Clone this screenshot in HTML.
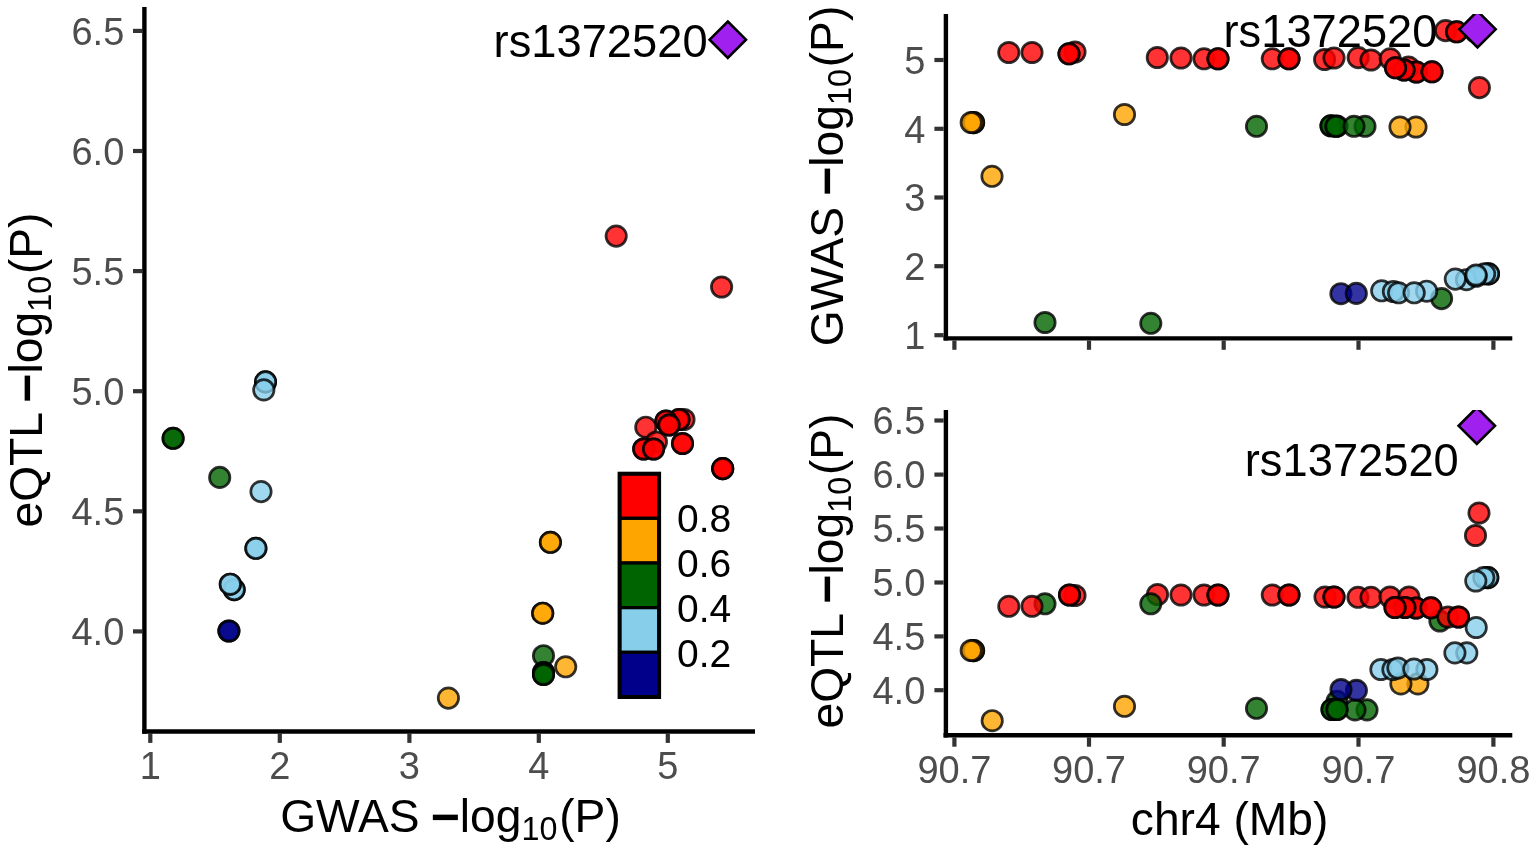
<!DOCTYPE html>
<html lang="en">
<head>
<meta charset="utf-8">
<title>LocusCompare: GWAS vs eQTL, rs1372520</title>
<style>
html, body { margin: 0; padding: 0; background: #fff; }
body { width: 1535px; height: 851px; overflow: hidden; font-family: "Liberation Sans", Arial, sans-serif; }
svg { display: block; }
.pt { stroke: #000; stroke-width: 2.7px; fill-opacity: 0.8; stroke-opacity: 0.8; }
</style>
</head>
<body>
<svg width="1535" height="851" viewBox="0 0 1535 851" font-family='"Liberation Sans", Arial, sans-serif'>
<defs>
<clipPath id="clipTR"><rect x="948" y="14" width="570" height="322.2"/></clipPath>
<clipPath id="clipBR"><rect x="948" y="410" width="570" height="322.8"/></clipPath>
</defs>
<rect width="1535" height="851" fill="#fff"/>
<circle class="pt" cx="173.1" cy="438.3" r="10.2" fill="#006400"/>
<circle class="pt" cx="173.1" cy="438.3" r="10.2" fill="#006400"/>
<circle class="pt" cx="219.7" cy="477.4" r="10.2" fill="#006400"/>
<circle class="pt" cx="265.5" cy="381.9" r="10.2" fill="#87CEEB"/>
<circle class="pt" cx="265.5" cy="381.9" r="10.2" fill="#87CEEB"/>
<circle class="pt" cx="263.8" cy="389.9" r="10.2" fill="#87CEEB"/>
<circle class="pt" cx="261.0" cy="491.6" r="10.2" fill="#87CEEB"/>
<circle class="pt" cx="255.9" cy="548.3" r="10.2" fill="#87CEEB"/>
<circle class="pt" cx="255.9" cy="548.3" r="10.2" fill="#87CEEB"/>
<circle class="pt" cx="234.2" cy="589.6" r="10.2" fill="#87CEEB"/>
<circle class="pt" cx="234.2" cy="589.6" r="10.2" fill="#87CEEB"/>
<circle class="pt" cx="230.3" cy="584.2" r="10.2" fill="#87CEEB"/>
<circle class="pt" cx="230.3" cy="584.2" r="10.2" fill="#87CEEB"/>
<circle class="pt" cx="228.9" cy="631.0" r="10.2" fill="#00008B"/>
<circle class="pt" cx="228.9" cy="631.0" r="10.2" fill="#00008B"/>
<circle class="pt" cx="448.4" cy="698.1" r="10.2" fill="#FFA500"/>
<circle class="pt" cx="550.4" cy="542.3" r="10.2" fill="#FFA500"/>
<circle class="pt" cx="550.4" cy="542.3" r="10.2" fill="#FFA500"/>
<circle class="pt" cx="542.7" cy="613.2" r="10.2" fill="#FFA500"/>
<circle class="pt" cx="542.7" cy="613.2" r="10.2" fill="#FFA500"/>
<circle class="pt" cx="543.5" cy="655.7" r="10.2" fill="#006400"/>
<circle class="pt" cx="565.7" cy="666.8" r="10.2" fill="#FFA500"/>
<circle class="pt" cx="543.5" cy="672.5" r="10.2" fill="#006400"/>
<circle class="pt" cx="543.5" cy="672.5" r="10.2" fill="#006400"/>
<circle class="pt" cx="543.5" cy="674.5" r="10.2" fill="#006400"/>
<circle class="pt" cx="543.5" cy="674.5" r="10.2" fill="#006400"/>
<circle class="pt" cx="616.2" cy="236.1" r="10.2" fill="#FF0000"/>
<circle class="pt" cx="721.6" cy="287.0" r="10.2" fill="#FF0000"/>
<circle class="pt" cx="645.8" cy="427.2" r="10.2" fill="#FF0000"/>
<circle class="pt" cx="656.4" cy="442.0" r="10.2" fill="#FF0000"/>
<circle class="pt" cx="643.7" cy="449.0" r="10.2" fill="#FF0000"/>
<circle class="pt" cx="643.7" cy="449.0" r="10.2" fill="#FF0000"/>
<circle class="pt" cx="653.6" cy="449.0" r="10.2" fill="#FF0000"/>
<circle class="pt" cx="653.6" cy="449.0" r="10.2" fill="#FF0000"/>
<circle class="pt" cx="684.0" cy="419.5" r="10.2" fill="#FF0000"/>
<circle class="pt" cx="679.0" cy="419.5" r="10.2" fill="#FF0000"/>
<circle class="pt" cx="679.0" cy="419.5" r="10.2" fill="#FF0000"/>
<circle class="pt" cx="666.0" cy="421.0" r="10.2" fill="#FF0000"/>
<circle class="pt" cx="666.0" cy="421.0" r="10.2" fill="#FF0000"/>
<circle class="pt" cx="669.0" cy="425.0" r="10.2" fill="#FF0000"/>
<circle class="pt" cx="669.0" cy="425.0" r="10.2" fill="#FF0000"/>
<circle class="pt" cx="682.5" cy="443.5" r="10.2" fill="#FF0000"/>
<circle class="pt" cx="682.5" cy="443.5" r="10.2" fill="#FF0000"/>
<circle class="pt" cx="722.7" cy="468.6" r="10.2" fill="#FF0000"/>
<circle class="pt" cx="722.7" cy="468.6" r="10.2" fill="#FF0000"/>
<circle class="pt" cx="722.7" cy="468.6" r="10.2" fill="#FF0000"/>
<line x1="150.3" y1="733.7" x2="150.3" y2="742.9" stroke="#333333" stroke-width="4.2"/>
<line x1="279.8" y1="733.7" x2="279.8" y2="742.9" stroke="#333333" stroke-width="4.2"/>
<line x1="409.4" y1="733.7" x2="409.4" y2="742.9" stroke="#333333" stroke-width="4.2"/>
<line x1="538.8" y1="733.7" x2="538.8" y2="742.9" stroke="#333333" stroke-width="4.2"/>
<line x1="667.8" y1="733.7" x2="667.8" y2="742.9" stroke="#333333" stroke-width="4.2"/>
<line x1="133.0" y1="30.9" x2="142.2" y2="30.9" stroke="#333333" stroke-width="4.2"/>
<line x1="133.0" y1="151.0" x2="142.2" y2="151.0" stroke="#333333" stroke-width="4.2"/>
<line x1="133.0" y1="271.1" x2="142.2" y2="271.1" stroke="#333333" stroke-width="4.2"/>
<line x1="133.0" y1="391.2" x2="142.2" y2="391.2" stroke="#333333" stroke-width="4.2"/>
<line x1="133.0" y1="511.3" x2="142.2" y2="511.3" stroke="#333333" stroke-width="4.2"/>
<line x1="133.0" y1="631.4" x2="142.2" y2="631.4" stroke="#333333" stroke-width="4.2"/>
<line x1="144.4" y1="7.0" x2="144.4" y2="733.7" stroke="#000" stroke-width="4.4"/>
<line x1="142.2" y1="731.5" x2="755.0" y2="731.5" stroke="#000" stroke-width="4.4"/>
<text x="124.3" y="44.7" font-size="38" text-anchor="end" fill="#4D4D4D">6.5</text>
<text x="124.3" y="164.8" font-size="38" text-anchor="end" fill="#4D4D4D">6.0</text>
<text x="124.3" y="284.9" font-size="38" text-anchor="end" fill="#4D4D4D">5.5</text>
<text x="124.3" y="405.0" font-size="38" text-anchor="end" fill="#4D4D4D">5.0</text>
<text x="124.3" y="525.1" font-size="38" text-anchor="end" fill="#4D4D4D">4.5</text>
<text x="124.3" y="645.2" font-size="38" text-anchor="end" fill="#4D4D4D">4.0</text>
<text x="150.3" y="778.5" font-size="38" text-anchor="middle" fill="#4D4D4D">1</text>
<text x="279.8" y="778.5" font-size="38" text-anchor="middle" fill="#4D4D4D">2</text>
<text x="409.4" y="778.5" font-size="38" text-anchor="middle" fill="#4D4D4D">3</text>
<text x="538.8" y="778.5" font-size="38" text-anchor="middle" fill="#4D4D4D">4</text>
<text x="667.8" y="778.5" font-size="38" text-anchor="middle" fill="#4D4D4D">5</text>
<text x="450.5" y="832.0" font-size="46.2" text-anchor="middle" fill="#000">GWAS <tspan font-weight="bold" font-size="50" dy="1.6" dx="-1.8">−</tspan><tspan dy="-1.6">log</tspan><tspan font-size="32.3" dy="8.2">10</tspan><tspan dy="-8.2" dx="1.8">(P)</tspan></text>
<text transform="translate(42.4 370.0) rotate(-90)" font-size="46.2" text-anchor="middle" fill="#000">eQTL <tspan font-weight="bold" font-size="50" dy="1.6" dx="-1.8">−</tspan><tspan dy="-1.6">log</tspan><tspan font-size="32.3" dy="8.2">10</tspan><tspan dy="-8.2" dx="1.8">(P)</tspan></text>
<rect x="619.6" y="473.70" width="39.5" height="44.66" fill="#FF0000" stroke="#000" stroke-width="3.2"/>
<rect x="619.6" y="518.36" width="39.5" height="44.66" fill="#FFA500" stroke="#000" stroke-width="3.2"/>
<rect x="619.6" y="563.02" width="39.5" height="44.66" fill="#006400" stroke="#000" stroke-width="3.2"/>
<rect x="619.6" y="607.68" width="39.5" height="44.66" fill="#87CEEB" stroke="#000" stroke-width="3.2"/>
<rect x="619.6" y="652.34" width="39.5" height="44.66" fill="#00008B" stroke="#000" stroke-width="3.2"/>
<rect x="619.6" y="473.7" width="39.5" height="223.3" fill="none" stroke="#000" stroke-width="4"/>
<text x="677.0" y="532.4" font-size="39" text-anchor="start" fill="#000">0.8</text>
<text x="677.0" y="577.4" font-size="39" text-anchor="start" fill="#000">0.6</text>
<text x="677.0" y="622.4" font-size="39" text-anchor="start" fill="#000">0.4</text>
<text x="677.0" y="667.4" font-size="39" text-anchor="start" fill="#000">0.2</text>
<path d="M727.8 21.5 L746.0 39.7 L727.8 57.9 L709.6 39.7 Z" fill="#A020F0" stroke="#000" stroke-width="2.6" stroke-linejoin="miter"/>
<text x="707.6" y="57.0" font-size="47" text-anchor="end" fill="#000" textLength="214.0" lengthAdjust="spacingAndGlyphs">rs1372520</text>
<circle class="pt" cx="973.6" cy="122.6" r="10.2" fill="#FFA500"/>
<circle class="pt" cx="973.6" cy="122.6" r="10.2" fill="#FFA500"/>
<circle class="pt" cx="971.2" cy="122.5" r="10.2" fill="#FFA500"/>
<circle class="pt" cx="992.0" cy="176.3" r="10.2" fill="#FFA500"/>
<circle class="pt" cx="1008.8" cy="52.5" r="10.2" fill="#FF0000"/>
<circle class="pt" cx="1032.0" cy="52.5" r="10.2" fill="#FF0000"/>
<circle class="pt" cx="1045.0" cy="322.5" r="10.2" fill="#006400"/>
<circle class="pt" cx="1075.0" cy="52.0" r="10.2" fill="#FF0000"/>
<circle class="pt" cx="1069.0" cy="53.8" r="10.2" fill="#FF0000"/>
<circle class="pt" cx="1069.0" cy="53.8" r="10.2" fill="#FF0000"/>
<circle class="pt" cx="1124.5" cy="114.5" r="10.2" fill="#FFA500"/>
<circle class="pt" cx="1150.8" cy="323.3" r="10.2" fill="#006400"/>
<circle class="pt" cx="1157.3" cy="57.5" r="10.2" fill="#FF0000"/>
<circle class="pt" cx="1181.0" cy="58.0" r="10.2" fill="#FF0000"/>
<circle class="pt" cx="1204.0" cy="58.8" r="10.2" fill="#FF0000"/>
<circle class="pt" cx="1218.0" cy="58.8" r="10.2" fill="#FF0000"/>
<circle class="pt" cx="1218.0" cy="58.8" r="10.2" fill="#FF0000"/>
<circle class="pt" cx="1256.5" cy="126.3" r="10.2" fill="#006400"/>
<circle class="pt" cx="1272.3" cy="58.8" r="10.2" fill="#FF0000"/>
<circle class="pt" cx="1289.0" cy="58.8" r="10.2" fill="#FF0000"/>
<circle class="pt" cx="1289.0" cy="58.8" r="10.2" fill="#FF0000"/>
<circle class="pt" cx="1324.6" cy="59.5" r="10.2" fill="#FF0000"/>
<circle class="pt" cx="1334.0" cy="58.0" r="10.2" fill="#FF0000"/>
<circle class="pt" cx="1358.2" cy="57.6" r="10.2" fill="#FF0000"/>
<circle class="pt" cx="1371.0" cy="60.0" r="10.2" fill="#FF0000"/>
<circle class="pt" cx="1390.2" cy="58.8" r="10.2" fill="#FF0000"/>
<circle class="pt" cx="1408.5" cy="67.0" r="10.2" fill="#FF0000"/>
<circle class="pt" cx="1416.4" cy="72.0" r="10.2" fill="#FF0000"/>
<circle class="pt" cx="1416.4" cy="72.0" r="10.2" fill="#FF0000"/>
<circle class="pt" cx="1404.0" cy="70.0" r="10.2" fill="#FF0000"/>
<circle class="pt" cx="1404.0" cy="70.0" r="10.2" fill="#FF0000"/>
<circle class="pt" cx="1395.5" cy="67.8" r="10.2" fill="#FF0000"/>
<circle class="pt" cx="1395.5" cy="67.8" r="10.2" fill="#FF0000"/>
<circle class="pt" cx="1432.0" cy="71.8" r="10.2" fill="#FF0000"/>
<circle class="pt" cx="1432.0" cy="71.8" r="10.2" fill="#FF0000"/>
<circle class="pt" cx="1445.6" cy="30.6" r="10.2" fill="#FF0000"/>
<circle class="pt" cx="1456.6" cy="31.8" r="10.2" fill="#FF0000"/>
<circle class="pt" cx="1456.6" cy="31.8" r="10.2" fill="#FF0000"/>
<circle class="pt" cx="1475.5" cy="31.8" r="10.2" fill="#FF0000"/>
<circle class="pt" cx="1479.4" cy="87.6" r="10.2" fill="#FF0000"/>
<circle class="pt" cx="1337.0" cy="126.0" r="10.2" fill="#006400"/>
<circle class="pt" cx="1331.0" cy="125.8" r="10.2" fill="#006400"/>
<circle class="pt" cx="1331.0" cy="125.8" r="10.2" fill="#006400"/>
<circle class="pt" cx="1336.0" cy="126.3" r="10.2" fill="#006400"/>
<circle class="pt" cx="1336.0" cy="126.3" r="10.2" fill="#006400"/>
<circle class="pt" cx="1365.0" cy="126.3" r="10.2" fill="#006400"/>
<circle class="pt" cx="1354.0" cy="126.3" r="10.2" fill="#006400"/>
<circle class="pt" cx="1416.0" cy="127.0" r="10.2" fill="#FFA500"/>
<circle class="pt" cx="1400.0" cy="127.0" r="10.2" fill="#FFA500"/>
<circle class="pt" cx="1340.9" cy="293.7" r="10.2" fill="#00008B"/>
<circle class="pt" cx="1356.3" cy="293.4" r="10.2" fill="#00008B"/>
<circle class="pt" cx="1441.6" cy="298.6" r="10.2" fill="#006400"/>
<circle class="pt" cx="1381.7" cy="290.8" r="10.2" fill="#87CEEB"/>
<circle class="pt" cx="1426.6" cy="291.2" r="10.2" fill="#87CEEB"/>
<circle class="pt" cx="1393.4" cy="291.5" r="10.2" fill="#87CEEB"/>
<circle class="pt" cx="1398.6" cy="292.8" r="10.2" fill="#87CEEB"/>
<circle class="pt" cx="1414.2" cy="292.8" r="10.2" fill="#87CEEB"/>
<circle class="pt" cx="1466.4" cy="279.7" r="10.2" fill="#87CEEB"/>
<circle class="pt" cx="1455.3" cy="279.1" r="10.2" fill="#87CEEB"/>
<circle class="pt" cx="1488.5" cy="273.9" r="10.2" fill="#87CEEB"/>
<circle class="pt" cx="1488.5" cy="273.9" r="10.2" fill="#87CEEB"/>
<circle class="pt" cx="1484.6" cy="273.9" r="10.2" fill="#87CEEB"/>
<circle class="pt" cx="1476.1" cy="276.3" r="10.2" fill="#87CEEB"/>
<circle class="pt" cx="1476.1" cy="275.0" r="10.2" fill="#87CEEB"/>
<path d="M1477.5 11.1 L1495.7 29.3 L1477.5 47.5 L1459.3 29.3 Z" fill="#A020F0" stroke="#000" stroke-width="2.6" stroke-linejoin="miter" clip-path="url(#clipTR)"/>
<text x="1437.5" y="46.8" font-size="47" text-anchor="end" fill="#000" textLength="214.0" lengthAdjust="spacingAndGlyphs">rs1372520</text>
<line x1="954.4" y1="340.6" x2="954.4" y2="349.8" stroke="#333333" stroke-width="4.2"/>
<line x1="1089.0" y1="340.6" x2="1089.0" y2="349.8" stroke="#333333" stroke-width="4.2"/>
<line x1="1223.7" y1="340.6" x2="1223.7" y2="349.8" stroke="#333333" stroke-width="4.2"/>
<line x1="1358.5" y1="340.6" x2="1358.5" y2="349.8" stroke="#333333" stroke-width="4.2"/>
<line x1="1493.4" y1="340.6" x2="1493.4" y2="349.8" stroke="#333333" stroke-width="4.2"/>
<line x1="934.4" y1="60.0" x2="943.6" y2="60.0" stroke="#333333" stroke-width="4.2"/>
<line x1="934.4" y1="128.8" x2="943.6" y2="128.8" stroke="#333333" stroke-width="4.2"/>
<line x1="934.4" y1="197.5" x2="943.6" y2="197.5" stroke="#333333" stroke-width="4.2"/>
<line x1="934.4" y1="266.2" x2="943.6" y2="266.2" stroke="#333333" stroke-width="4.2"/>
<line x1="934.4" y1="335.2" x2="943.6" y2="335.2" stroke="#333333" stroke-width="4.2"/>
<line x1="945.9" y1="14.0" x2="945.9" y2="340.6" stroke="#000" stroke-width="4.4"/>
<line x1="943.5" y1="338.4" x2="1512.3" y2="338.4" stroke="#000" stroke-width="4.4"/>
<text x="925.3" y="73.8" font-size="38" text-anchor="end" fill="#4D4D4D">5</text>
<text x="925.3" y="142.6" font-size="38" text-anchor="end" fill="#4D4D4D">4</text>
<text x="925.3" y="211.3" font-size="38" text-anchor="end" fill="#4D4D4D">3</text>
<text x="925.3" y="280.1" font-size="38" text-anchor="end" fill="#4D4D4D">2</text>
<text x="925.3" y="349.0" font-size="38" text-anchor="end" fill="#4D4D4D">1</text>
<text transform="translate(842.5 176.0) rotate(-90)" font-size="46.2" text-anchor="middle" fill="#000">GWAS <tspan font-weight="bold" font-size="50" dy="1.6" dx="-1.8">−</tspan><tspan dy="-1.6">log</tspan><tspan font-size="32.3" dy="8.2">10</tspan><tspan dy="-8.2" dx="1.8">(P)</tspan></text>
<circle class="pt" cx="973.6" cy="650.6" r="10.2" fill="#FFA500"/>
<circle class="pt" cx="973.6" cy="650.6" r="10.2" fill="#FFA500"/>
<circle class="pt" cx="971.2" cy="650.5" r="10.2" fill="#FFA500"/>
<circle class="pt" cx="992.2" cy="720.7" r="10.2" fill="#FFA500"/>
<circle class="pt" cx="1124.5" cy="706.3" r="10.2" fill="#FFA500"/>
<circle class="pt" cx="1008.8" cy="606.3" r="10.2" fill="#FF0000"/>
<circle class="pt" cx="1045.0" cy="603.8" r="10.2" fill="#006400"/>
<circle class="pt" cx="1032.0" cy="606.3" r="10.2" fill="#FF0000"/>
<circle class="pt" cx="1075.0" cy="595.5" r="10.2" fill="#FF0000"/>
<circle class="pt" cx="1069.5" cy="595.0" r="10.2" fill="#FF0000"/>
<circle class="pt" cx="1069.5" cy="595.0" r="10.2" fill="#FF0000"/>
<circle class="pt" cx="1157.5" cy="594.5" r="10.2" fill="#FF0000"/>
<circle class="pt" cx="1150.8" cy="603.8" r="10.2" fill="#006400"/>
<circle class="pt" cx="1181.0" cy="595.0" r="10.2" fill="#FF0000"/>
<circle class="pt" cx="1204.0" cy="595.0" r="10.2" fill="#FF0000"/>
<circle class="pt" cx="1218.0" cy="595.0" r="10.2" fill="#FF0000"/>
<circle class="pt" cx="1218.0" cy="595.0" r="10.2" fill="#FF0000"/>
<circle class="pt" cx="1272.3" cy="595.0" r="10.2" fill="#FF0000"/>
<circle class="pt" cx="1289.0" cy="595.0" r="10.2" fill="#FF0000"/>
<circle class="pt" cx="1289.0" cy="595.0" r="10.2" fill="#FF0000"/>
<circle class="pt" cx="1325.0" cy="597.0" r="10.2" fill="#FF0000"/>
<circle class="pt" cx="1334.0" cy="597.0" r="10.2" fill="#FF0000"/>
<circle class="pt" cx="1334.0" cy="597.0" r="10.2" fill="#FF0000"/>
<circle class="pt" cx="1358.0" cy="597.3" r="10.2" fill="#FF0000"/>
<circle class="pt" cx="1371.0" cy="597.3" r="10.2" fill="#FF0000"/>
<circle class="pt" cx="1390.0" cy="597.0" r="10.2" fill="#FF0000"/>
<circle class="pt" cx="1408.9" cy="597.0" r="10.2" fill="#FF0000"/>
<circle class="pt" cx="1416.0" cy="608.0" r="10.2" fill="#FF0000"/>
<circle class="pt" cx="1416.0" cy="608.0" r="10.2" fill="#FF0000"/>
<circle class="pt" cx="1404.9" cy="607.5" r="10.2" fill="#FF0000"/>
<circle class="pt" cx="1404.9" cy="607.5" r="10.2" fill="#FF0000"/>
<circle class="pt" cx="1395.0" cy="607.5" r="10.2" fill="#FF0000"/>
<circle class="pt" cx="1395.0" cy="607.5" r="10.2" fill="#FF0000"/>
<circle class="pt" cx="1439.9" cy="621.0" r="10.2" fill="#006400"/>
<circle class="pt" cx="1430.9" cy="607.8" r="10.2" fill="#FF0000"/>
<circle class="pt" cx="1430.9" cy="607.8" r="10.2" fill="#FF0000"/>
<circle class="pt" cx="1447.9" cy="617.0" r="10.2" fill="#FF0000"/>
<circle class="pt" cx="1458.5" cy="617.0" r="10.2" fill="#FF0000"/>
<circle class="pt" cx="1458.5" cy="617.0" r="10.2" fill="#FF0000"/>
<circle class="pt" cx="1479.0" cy="513.0" r="10.2" fill="#FF0000"/>
<circle class="pt" cx="1475.5" cy="535.5" r="10.2" fill="#FF0000"/>
<circle class="pt" cx="1487.8" cy="577.6" r="10.2" fill="#87CEEB"/>
<circle class="pt" cx="1487.8" cy="577.6" r="10.2" fill="#87CEEB"/>
<circle class="pt" cx="1483.8" cy="577.6" r="10.2" fill="#87CEEB"/>
<circle class="pt" cx="1475.8" cy="581.0" r="10.2" fill="#87CEEB"/>
<circle class="pt" cx="1476.2" cy="627.5" r="10.2" fill="#87CEEB"/>
<circle class="pt" cx="1466.8" cy="652.9" r="10.2" fill="#87CEEB"/>
<circle class="pt" cx="1454.9" cy="652.9" r="10.2" fill="#87CEEB"/>
<circle class="pt" cx="1417.9" cy="683.9" r="10.2" fill="#FFA500"/>
<circle class="pt" cx="1400.9" cy="683.9" r="10.2" fill="#FFA500"/>
<circle class="pt" cx="1380.9" cy="669.5" r="10.2" fill="#87CEEB"/>
<circle class="pt" cx="1426.9" cy="669.5" r="10.2" fill="#87CEEB"/>
<circle class="pt" cx="1392.9" cy="669.5" r="10.2" fill="#87CEEB"/>
<circle class="pt" cx="1397.9" cy="668.0" r="10.2" fill="#87CEEB"/>
<circle class="pt" cx="1413.9" cy="669.0" r="10.2" fill="#87CEEB"/>
<circle class="pt" cx="1256.5" cy="708.3" r="10.2" fill="#006400"/>
<circle class="pt" cx="1337.0" cy="701.4" r="10.2" fill="#006400"/>
<circle class="pt" cx="1367.0" cy="709.9" r="10.2" fill="#006400"/>
<circle class="pt" cx="1355.0" cy="709.9" r="10.2" fill="#006400"/>
<circle class="pt" cx="1332.0" cy="709.5" r="10.2" fill="#006400"/>
<circle class="pt" cx="1332.0" cy="709.5" r="10.2" fill="#006400"/>
<circle class="pt" cx="1337.0" cy="709.5" r="10.2" fill="#006400"/>
<circle class="pt" cx="1337.0" cy="709.5" r="10.2" fill="#006400"/>
<circle class="pt" cx="1356.4" cy="690.3" r="10.2" fill="#00008B"/>
<circle class="pt" cx="1341.0" cy="689.5" r="10.2" fill="#00008B"/>
<path d="M1476.8 407.6 L1495.0 425.8 L1476.8 444.0 L1458.6 425.8 Z" fill="#A020F0" stroke="#000" stroke-width="2.6" stroke-linejoin="miter" clip-path="url(#clipBR)"/>
<text x="1458.8" y="475.5" font-size="47" text-anchor="end" fill="#000" textLength="214.0" lengthAdjust="spacingAndGlyphs">rs1372520</text>
<line x1="954.4" y1="737.5" x2="954.4" y2="746.7" stroke="#333333" stroke-width="4.2"/>
<line x1="1089.0" y1="737.5" x2="1089.0" y2="746.7" stroke="#333333" stroke-width="4.2"/>
<line x1="1223.7" y1="737.5" x2="1223.7" y2="746.7" stroke="#333333" stroke-width="4.2"/>
<line x1="1358.5" y1="737.5" x2="1358.5" y2="746.7" stroke="#333333" stroke-width="4.2"/>
<line x1="1493.4" y1="737.5" x2="1493.4" y2="746.7" stroke="#333333" stroke-width="4.2"/>
<line x1="934.4" y1="420.5" x2="943.6" y2="420.5" stroke="#333333" stroke-width="4.2"/>
<line x1="934.4" y1="474.6" x2="943.6" y2="474.6" stroke="#333333" stroke-width="4.2"/>
<line x1="934.4" y1="528.5" x2="943.6" y2="528.5" stroke="#333333" stroke-width="4.2"/>
<line x1="934.4" y1="582.5" x2="943.6" y2="582.5" stroke="#333333" stroke-width="4.2"/>
<line x1="934.4" y1="636.4" x2="943.6" y2="636.4" stroke="#333333" stroke-width="4.2"/>
<line x1="934.4" y1="690.2" x2="943.6" y2="690.2" stroke="#333333" stroke-width="4.2"/>
<line x1="945.9" y1="410.0" x2="945.9" y2="737.5" stroke="#000" stroke-width="4.4"/>
<line x1="943.5" y1="735.3" x2="1512.3" y2="735.3" stroke="#000" stroke-width="4.4"/>
<text x="925.3" y="434.3" font-size="38" text-anchor="end" fill="#4D4D4D">6.5</text>
<text x="925.3" y="488.4" font-size="38" text-anchor="end" fill="#4D4D4D">6.0</text>
<text x="925.3" y="542.3" font-size="38" text-anchor="end" fill="#4D4D4D">5.5</text>
<text x="925.3" y="596.3" font-size="38" text-anchor="end" fill="#4D4D4D">5.0</text>
<text x="925.3" y="650.2" font-size="38" text-anchor="end" fill="#4D4D4D">4.5</text>
<text x="925.3" y="704.0" font-size="38" text-anchor="end" fill="#4D4D4D">4.0</text>
<text x="954.4" y="783.2" font-size="38" text-anchor="middle" fill="#4D4D4D">90.7</text>
<text x="1089.0" y="783.2" font-size="38" text-anchor="middle" fill="#4D4D4D">90.7</text>
<text x="1223.7" y="783.2" font-size="38" text-anchor="middle" fill="#4D4D4D">90.7</text>
<text x="1358.5" y="783.2" font-size="38" text-anchor="middle" fill="#4D4D4D">90.7</text>
<text x="1493.4" y="783.2" font-size="38" text-anchor="middle" fill="#4D4D4D">90.8</text>
<text x="1229.6" y="834.5" font-size="46.2" text-anchor="middle" fill="#000">chr4 (Mb)</text>
<text transform="translate(842.5 571.0) rotate(-90)" font-size="46.2" text-anchor="middle" fill="#000">eQTL <tspan font-weight="bold" font-size="50" dy="1.6" dx="-1.8">−</tspan><tspan dy="-1.6">log</tspan><tspan font-size="32.3" dy="8.2">10</tspan><tspan dy="-8.2" dx="1.8">(P)</tspan></text>
</svg>
</body>
</html>
